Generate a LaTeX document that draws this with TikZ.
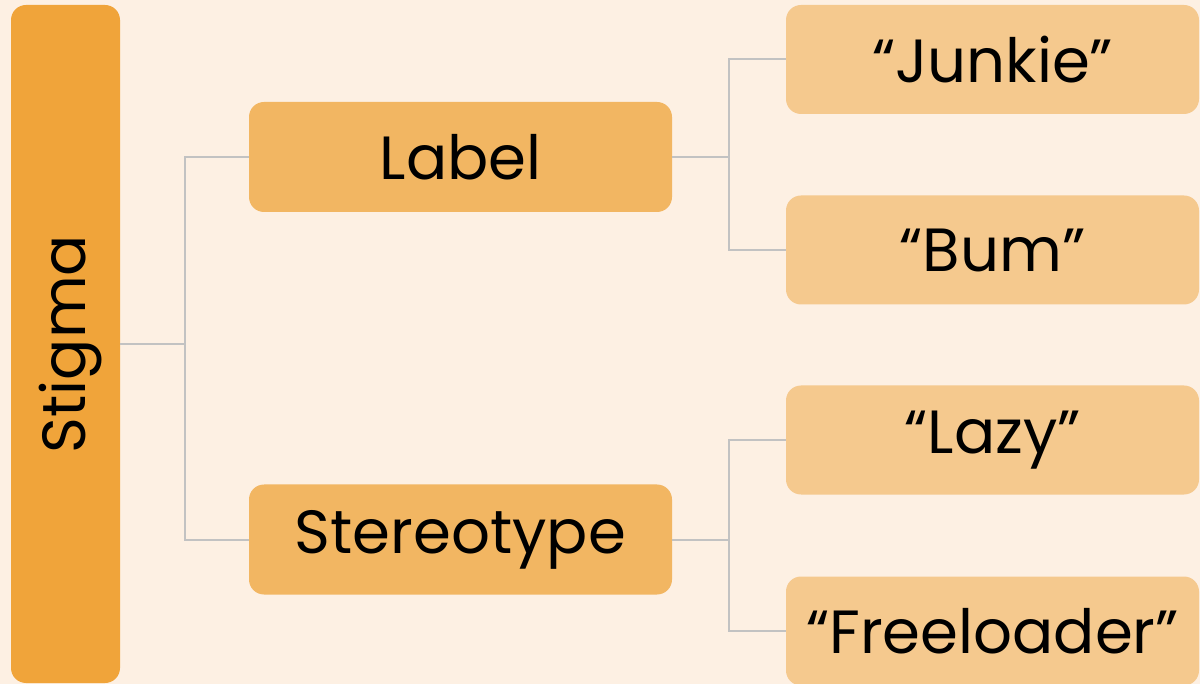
\documentclass[tikz,border=0pt]{standalone}
\usepackage{fontspec}
\setmainfont{Poppins}
\definecolor{bgcream}{HTML}{FDF0E3}
\definecolor{rootorange}{HTML}{F0A43A}
\definecolor{midorange}{HTML}{F2B662}
\definecolor{leaforange}{HTML}{F5C98E}
\definecolor{linkgray}{HTML}{C2C2C2}
\begin{document}
\begin{tikzpicture}[x=1pt,y=-1pt,
  box/.style={rectangle, rounded corners=15pt, inner sep=0pt, text=black,
    font=\fontsize{61}{72}\selectfont},
  rootbox/.style={box, fill=rootorange, minimum width=109pt, minimum height=678pt},
  midbox/.style={box, fill=midorange, minimum width=423pt, minimum height=110pt},
  leafbox/.style={box, fill=leaforange, minimum width=413pt, minimum height=109pt},
  link/.style={draw=linkgray, line width=2pt}]
\fill[bgcream] (0,0) rectangle (1200,684);
\useasboundingbox (0,0) rectangle (1200,684);

\node[rootbox] (stigma) at (65.5,344) {\rotatebox{90}{\raisebox{-5pt}[\height][\depth]{Stigma}}};
\node[midbox] (label) at (460.5,157) {Label};
\node[midbox] (stereo) at (460.5,539.5) {Stereotype};
\node[leafbox] (junkie) at (992.5,59.5) {“Junkie”};
\node[leafbox] (bum) at (992.5,250) {“Bum”};
\node[leafbox] (lazy) at (992.5,440) {“Lazy”};
\node[leafbox] (free) at (992.5,631) {“Freeloader”};

\coordinate (j0) at (185,344);
\coordinate (j1) at (729,157);
\coordinate (j2) at (729,539.5);

\draw[link] (stigma.east) -- (j0) |- (label.west);
\draw[link] (j0) |- (stereo.west);
\draw[link] (label.east) -- (j1) |- (junkie.west);
\draw[link] (j1) |- (bum.west);
\draw[link] (stereo.east) -- (j2) |- (lazy.west);
\draw[link] (j2) |- (free.west);
\end{tikzpicture}
\end{document}
